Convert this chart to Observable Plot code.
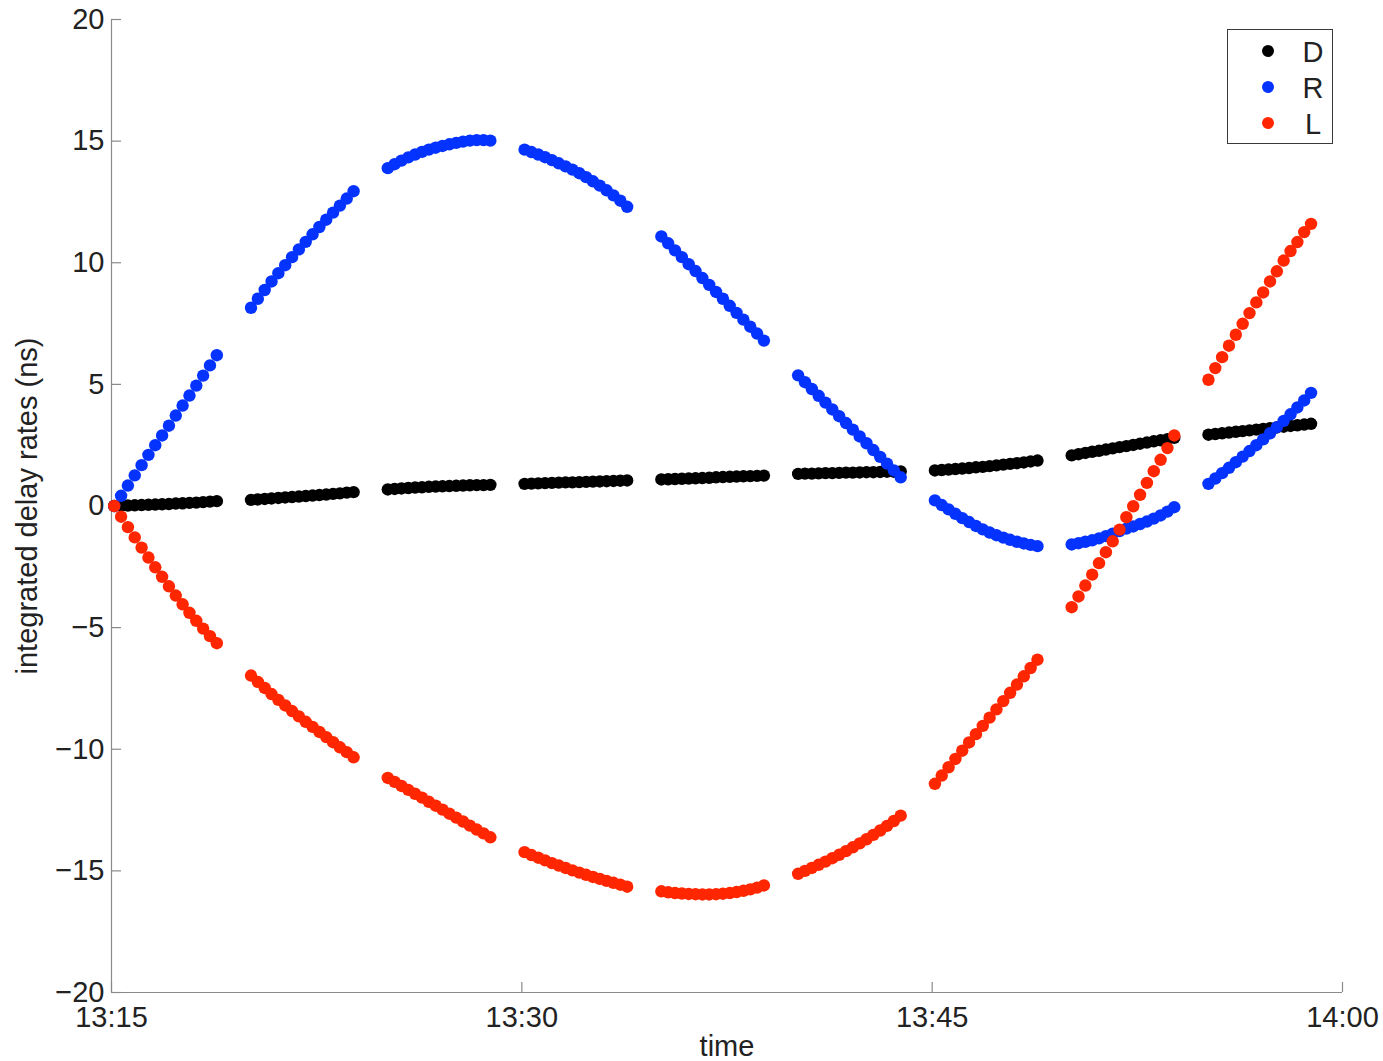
<!DOCTYPE html>
<html>
<head>
<meta charset="utf-8">
<script src="https://cdn.jsdelivr.net/npm/d3@7"></script>
<script src="https://cdn.jsdelivr.net/npm/@observablehq/plot@0.6"></script>
<style>
  html, body { margin: 0; padding: 0; background: #fff; }
  #wrap { position: relative; width: 1383px; height: 1061px; font-family: "Liberation Sans", Arial, sans-serif; }
  #legend { position: absolute; left: 1227px; top: 29px; width: 106px; height: 115px; box-sizing: border-box;
            border: 1.5px solid #3a3a3a; background: #fff; }
  .lg-dot { position: absolute; width: 12px; height: 12px; border-radius: 50%; }
  .lg-txt { position: absolute; font-size: 29px; line-height: 29px; color: #222; transform: translate(-50%, -50%); }
</style>
</head>
<body>
<div id="wrap"></div>
<script>
// ---- data ----
const scanStarts = ["13:15:06", "13:20:06", "13:25:06", "13:30:06", "13:35:06", "13:40:06", "13:45:06", "13:50:06", "13:55:06"];
const sampleStepSeconds = 15;

const seriesNames = ["D", "R", "L"];
const seriesColors = ["#000000", "#0433ff", "#ff2600"];

const D = [
  [0, 0.01, 0.02, 0.03, 0.04, 0.05, 0.06, 0.07, 0.08, 0.1, 0.11, 0.13, 0.14, 0.16, 0.18, 0.2],
  [0.25, 0.27, 0.29, 0.31, 0.33, 0.35, 0.37, 0.39, 0.41, 0.43, 0.45, 0.47, 0.5, 0.52, 0.55, 0.57],
  [0.68, 0.7, 0.72, 0.74, 0.76, 0.77, 0.79, 0.8, 0.81, 0.82, 0.83, 0.84, 0.85, 0.86, 0.86, 0.87],
  [0.91, 0.92, 0.93, 0.94, 0.95, 0.96, 0.97, 0.97, 0.98, 0.99, 1.0, 1.01, 1.02, 1.03, 1.04, 1.05],
  [1.09, 1.1, 1.11, 1.12, 1.13, 1.14, 1.15, 1.16, 1.18, 1.19, 1.2, 1.21, 1.22, 1.23, 1.24, 1.25],
  [1.32, 1.33, 1.33, 1.34, 1.35, 1.35, 1.36, 1.37, 1.37, 1.38, 1.39, 1.39, 1.4, 1.41, 1.41, 1.42],
  [1.46, 1.48, 1.5, 1.52, 1.54, 1.56, 1.59, 1.61, 1.64, 1.67, 1.7, 1.73, 1.76, 1.79, 1.83, 1.87],
  [2.08, 2.13, 2.18, 2.23, 2.27, 2.32, 2.37, 2.42, 2.46, 2.51, 2.56, 2.61, 2.66, 2.7, 2.75, 2.8],
  [2.93, 2.96, 2.99, 3.02, 3.05, 3.08, 3.11, 3.14, 3.17, 3.2, 3.23, 3.26, 3.29, 3.32, 3.35, 3.38]
];

const R = [
  [0, 0.42, 0.84, 1.26, 1.68, 2.1, 2.5, 2.9, 3.3, 3.72, 4.13, 4.54, 4.95, 5.36, 5.78, 6.2],
  [8.15, 8.52, 8.88, 9.23, 9.57, 9.9, 10.23, 10.55, 10.86, 11.17, 11.47, 11.77, 12.06, 12.35, 12.64, 12.94],
  [13.89, 14.05, 14.2, 14.33, 14.45, 14.56, 14.65, 14.73, 14.8, 14.87, 14.93, 14.98, 15.02, 15.04, 15.04, 15.02],
  [14.65, 14.55, 14.45, 14.34, 14.22, 14.09, 13.96, 13.83, 13.68, 13.52, 13.35, 13.17, 12.98, 12.77, 12.55, 12.3],
  [11.08, 10.8, 10.51, 10.23, 9.94, 9.66, 9.37, 9.09, 8.8, 8.52, 8.23, 7.94, 7.66, 7.37, 7.09, 6.8],
  [5.37, 5.09, 4.81, 4.53, 4.25, 3.97, 3.69, 3.41, 3.14, 2.86, 2.58, 2.3, 2.02, 1.74, 1.46, 1.18],
  [0.23, 0.04, -0.14, -0.32, -0.5, -0.66, -0.82, -0.96, -1.09, -1.2, -1.3, -1.39, -1.47, -1.54, -1.6, -1.65],
  [-1.58, -1.53, -1.47, -1.41, -1.33, -1.24, -1.14, -1.03, -0.93, -0.84, -0.74, -0.64, -0.52, -0.39, -0.23, -0.05],
  [0.91, 1.13, 1.35, 1.57, 1.8, 2.03, 2.26, 2.5, 2.74, 2.99, 3.24, 3.5, 3.77, 4.05, 4.34, 4.65]
];

const L = [
  [0, -0.44, -0.87, -1.29, -1.71, -2.12, -2.52, -2.91, -3.3, -3.68, -4.04, -4.39, -4.72, -5.04, -5.35, -5.64],
  [-6.97, -7.23, -7.48, -7.73, -7.97, -8.2, -8.43, -8.65, -8.87, -9.08, -9.29, -9.5, -9.71, -9.92, -10.12, -10.33],
  [-11.18, -11.34, -11.51, -11.67, -11.83, -11.99, -12.16, -12.32, -12.48, -12.65, -12.81, -12.97, -13.14, -13.3, -13.46, -13.62],
  [-14.23, -14.35, -14.46, -14.57, -14.68, -14.78, -14.88, -14.98, -15.07, -15.16, -15.25, -15.33, -15.41, -15.49, -15.57, -15.65],
  [-15.84, -15.88, -15.91, -15.93, -15.95, -15.96, -15.97, -15.97, -15.96, -15.94, -15.91, -15.87, -15.82, -15.76, -15.69, -15.6],
  [-15.12, -15.0, -14.88, -14.75, -14.62, -14.48, -14.34, -14.19, -14.03, -13.87, -13.7, -13.52, -13.34, -13.15, -12.95, -12.73],
  [-11.42, -11.08, -10.74, -10.4, -10.06, -9.72, -9.38, -9.04, -8.7, -8.36, -8.02, -7.68, -7.34, -7.0, -6.66, -6.32],
  [-4.16, -3.72, -3.27, -2.82, -2.35, -1.9, -1.45, -0.97, -0.46, -0.01, 0.46, 0.95, 1.43, 1.9, 2.38, 2.9],
  [5.19, 5.67, 6.12, 6.59, 7.04, 7.49, 7.93, 8.37, 8.78, 9.23, 9.65, 10.09, 10.48, 10.85, 11.26, 11.6]
];

const xDomainLabels = ["13:15:00", "14:00:00"];
const xTickLabels = ["13:15", "13:30", "13:45", "14:00"];
const yDomain = [-20, 20];
const yTicks = [-20, -15, -10, -5, 0, 5, 10, 15, 20];
const xLabel = "time";
const yLabel = "integrated delay rates (ns)";

// ---- build table ----
const parseTime = d3.utcParse("%H:%M:%S");
const parseHM = d3.utcParse("%H:%M");
const seriesValues = [D, R, L];
const rows = [];
seriesNames.forEach((name, si) => {
  seriesValues[si].forEach((scan, s) => {
    const t0 = +parseTime(scanStarts[s]);
    scan.forEach((v, k) => rows.push({series: name, time: new Date(t0 + k * sampleStepSeconds * 1000), value: v}));
  });
});
const xDomain = xDomainLabels.map(parseTime);
const xTicks = xTickLabels.map(parseHM);

const W = 1383, H = 1061, mL = 111, mR = 41, mT = 19, mB = 69;
const plotW = W - mL - mR, plotH = H - mT - mB;
const axisGray = "#8a8a8a";
const minus = d => d < 0 ? "\u2212" + Math.abs(d) : String(d);

const chart = Plot.plot({
  width: W, height: H,
  marginLeft: mL, marginRight: mR, marginTop: mT, marginBottom: mB,
  style: {fontFamily: "'Liberation Sans', Arial, sans-serif", fontSize: "29px", color: "#222", background: "#fff", overflow: "visible"},
  x: {type: "utc", domain: xDomain},
  y: {domain: yDomain},
  color: {domain: seriesNames, range: seriesColors},
  marks: [
    Plot.ruleX([xDomain[0]], {stroke: axisGray, strokeWidth: 1.2}),
    Plot.ruleY([yDomain[0]], {stroke: axisGray, strokeWidth: 1.2}),
    Plot.tickY(yTicks, {y: d => d, stroke: axisGray, strokeWidth: 1.2, insetRight: plotW - 10}),
    Plot.tickX(xTicks, {x: d => d, stroke: axisGray, strokeWidth: 1.2, insetTop: plotH - 10}),
    Plot.axisY(yTicks, {tickSize: 0, tickPadding: 7, tickFormat: minus, label: yLabel, labelAnchor: "center", labelOffset: 95, labelArrow: "none"}),
    Plot.axisX(xTicks, {tickSize: 0, tickPadding: 14, tickFormat: d3.utcFormat("%H:%M"), label: xLabel, labelAnchor: "center", labelOffset: 63, labelArrow: "none"}),
    Plot.dot(rows, {x: "time", y: "value", fill: "series", r: 6.2})
  ]
});

const wrap = document.getElementById("wrap");
wrap.appendChild(chart);

// legend
const legend = document.createElement("div");
legend.id = "legend";
seriesNames.forEach((name, i) => {
  const dot = document.createElement("div");
  dot.className = "lg-dot";
  dot.style.background = seriesColors[i];
  dot.style.left = (39.5 - 6) + "px";
  dot.style.top = (21 + 36 * i - 6) + "px";
  legend.appendChild(dot);
  const txt = document.createElement("div");
  txt.className = "lg-txt";
  txt.textContent = name;
  txt.style.left = "85px";
  txt.style.top = (22 + 36 * i) + "px";
  legend.appendChild(txt);
});
wrap.appendChild(legend);
</script>
</body>
</html>
